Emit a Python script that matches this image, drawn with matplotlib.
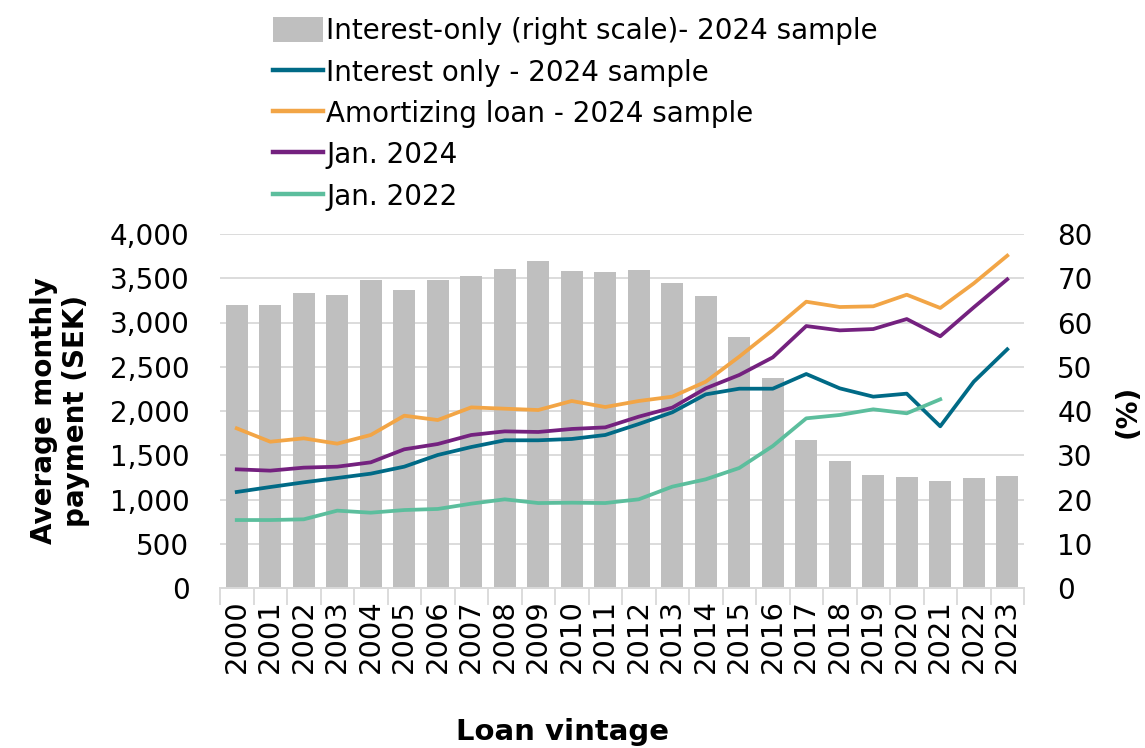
import numpy as np
import matplotlib
matplotlib.use("Agg")
from matplotlib import pyplot as plt
from matplotlib.ticker import FuncFormatter, FixedLocator

years = [str(y) for y in range(2000, 2024)]

# share of interest-only loans, % (right scale)
interest_only_share = [64.0, 64.0, 66.6, 66.3, 69.7, 67.4, 69.5, 70.5, 72.2, 73.9, 71.6, 71.5,
                       71.8, 68.9, 66.0, 56.8, 47.5, 33.4, 28.7, 25.6, 25.1, 24.1, 24.9, 25.3]

# average monthly payment, SEK
interest_only_2024 = [1085, 1141, 1194, 1243, 1292, 1371, 1503, 1593, 1669, 1669, 1684, 1729,
                      1853, 1985, 2188, 2252, 2252, 2418, 2256, 2162, 2196, 1827, 2331, 2697]
amortizing_2024 = [1804, 1653, 1691, 1631, 1729, 1947, 1898, 2041, 2026, 2011, 2113, 2045,
                   2113, 2162, 2331, 2614, 2915, 3235, 3175, 3183, 3314, 3164, 3442, 3755]
jan_2024 = [1341, 1326, 1360, 1371, 1420, 1567, 1627, 1729, 1770, 1763, 1797, 1815,
            1936, 2038, 2256, 2407, 2606, 2960, 2911, 2926, 3039, 2844, 3171, 3488]
jan_2022 = [768, 768, 776, 874, 851, 881, 893, 953, 1002, 960, 964, 960,
            1002, 1145, 1228, 1356, 1604, 1917, 1955, 2019, 1974, 2132, np.nan, np.nan]

plt.rcParams['font.family'] = ['DejaVu Sans']

fig = plt.figure(figsize=(11.45, 7.48), dpi=100)
ax = fig.add_axes([220 / 1145, 1 - 588 / 748, 804 / 1145, 354 / 748])
ax2 = ax.twinx()

x = np.arange(len(years))

# bars on the right scale, drawn behind lines
bars = ax2.bar(x, interest_only_share, width=0.66, color='#BFBFBF', zorder=1,
               label='Interest-only (right scale)- 2024 sample')
ax2.set_ylim(0, 80)
ax2.set_yticks(np.arange(0, 81, 10))

ax.set_zorder(ax2.get_zorder() + 1)
ax.patch.set_visible(False)

lw = 2.7
l1, = ax.plot(x, interest_only_2024, color='#006A86', lw=lw, label='Interest only - 2024 sample')
l2, = ax.plot(x, amortizing_2024, color='#F2A546', lw=lw, label='Amortizing loan - 2024 sample')
l3, = ax.plot(x, jan_2024, color='#74217F', lw=lw, label='Jan. 2024')
l4, = ax.plot(x, jan_2022, color='#5CBE9D', lw=lw, label='Jan. 2022')

ax.set_ylim(0, 4000)
ax.set_yticks(np.arange(0, 4001, 500))
ax.yaxis.set_major_formatter(FuncFormatter(lambda v, p: f"{int(v):,}"))
ax.set_xlim(-0.5, len(years) - 0.5)

# gridlines drawn on the bar axis so they sit behind the bars
for v in np.arange(500, 4001, 500):
    ax2.axhline(v / 50, color='#D9D9D9', lw=1.3, zorder=0)

ax.set_xticks(x)
ax.set_xticklabels(years, rotation=90, fontsize=21)
ax.tick_params(axis='x', length=0, pad=8)
ax.xaxis.set_minor_locator(FixedLocator(np.arange(-0.5, len(years), 1)))
ax.tick_params(axis='x', which='minor', length=12, color='#D9D9D9', width=1.3)
ax.tick_params(axis='y', length=0, labelsize=20, pad=22)
ax2.tick_params(axis='y', length=0, labelsize=20, pad=24)

for a in (ax, ax2):
    for s in ('top', 'left', 'right'):
        a.spines[s].set_visible(False)
    a.spines['bottom'].set_color('#D9D9D9')
    a.spines['bottom'].set_linewidth(1.3)

ax.set_ylabel('Average monthly\npayment (SEK)', fontsize=20, fontweight='bold', labelpad=14)
fig.text(1128 / 1145, 1 - 411 / 748, '(%)', fontsize=20, fontweight='bold',
         rotation=90, ha='center', va='center')
fig.text(562 / 1145, 1 - 732 / 748, 'Loan vintage', fontsize=21, fontweight='bold',
         ha='center', va='center')

leg = fig.legend([bars, l1, l2, l3, l4],
                 [bars.get_label(), l1.get_label(), l2.get_label(), l3.get_label(), l4.get_label()],
                 loc='upper left', bbox_to_anchor=(254 / 1145, 1.003), frameon=False,
                 fontsize=20, handlelength=1.8, handleheight=1.0, handletextpad=0.1,
                 labelspacing=0.48, borderpad=0.2)
for h in leg.legend_handles[1:]:
    h.set_linewidth(3.2)

plt.savefig("out.png", format="PNG")
